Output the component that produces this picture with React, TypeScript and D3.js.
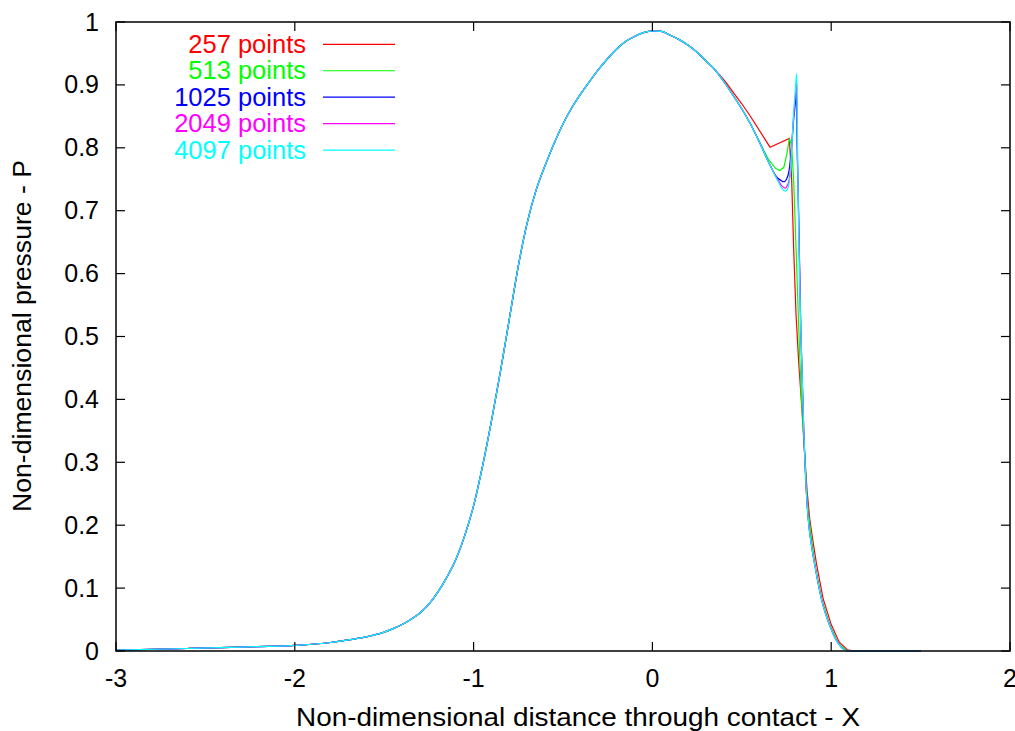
import React from "react";
import * as d3 from "d3";

// Shared part of the profile (all meshes agree here)
const commonX = [-3.0, -2.6, -2.3, -2.0, -1.8, -1.7, -1.6, -1.5, -1.45, -1.4, -1.35, -1.3, -1.25, -1.2, -1.15, -1.1, -1.05, -1.0, -0.95, -0.9, -0.85, -0.8, -0.75, -0.7, -0.65, -0.6, -0.55, -0.5, -0.45, -0.4, -0.35, -0.3, -0.25, -0.2, -0.15, -0.1, -0.05, 0.0, 0.05, 0.1, 0.15, 0.2, 0.25, 0.3, 0.35];
const commonP = [0.0015, 0.004, 0.0062, 0.009, 0.0135, 0.0178, 0.0225, 0.030, 0.0355, 0.042, 0.0505, 0.0605, 0.0745, 0.0935, 0.117, 0.145, 0.183, 0.231, 0.294, 0.366, 0.444, 0.528, 0.612, 0.681, 0.733, 0.772, 0.807, 0.838, 0.864, 0.886, 0.906, 0.925, 0.942, 0.957, 0.969, 0.977, 0.983, 0.986, 0.985, 0.979, 0.972, 0.963, 0.952, 0.938, 0.924];

// Outlet-side tails per mesh
const redX = [0.4, 0.45, 0.5, 0.546, 0.658, 0.766, 0.779, 0.79, 0.803, 0.818, 0.835, 0.85, 0.865, 0.88, 0.895, 0.918, 0.955, 1.0, 1.045, 1.09, 1.13, 1.5];
const redP = [0.908, 0.889, 0.870, 0.851, 0.801, 0.815, 0.749, 0.64, 0.537, 0.46, 0.39, 0.32, 0.255, 0.21, 0.18, 0.138, 0.083, 0.042, 0.014, 0.002, 0.0, 0.0];

const greenX = [0.4, 0.45, 0.5, 0.55, 0.6, 0.65, 0.69, 0.714, 0.735, 0.752, 0.766, 0.778, 0.79, 0.803, 0.822, 0.833, 0.848, 0.865, 0.88, 0.895, 0.91, 0.947, 0.994, 1.04, 1.087, 1.12, 1.5];
const greenP = [0.905, 0.884, 0.862, 0.837, 0.809, 0.781, 0.767, 0.764, 0.769, 0.79, 0.815, 0.805, 0.749, 0.643, 0.484, 0.404, 0.335, 0.24, 0.2, 0.168, 0.136, 0.082, 0.04, 0.012, 0.0006, 0.0, 0.0];

const blueX = [0.4, 0.45, 0.5, 0.55, 0.6, 0.65, 0.7, 0.72, 0.735, 0.75, 0.765, 0.778, 0.79, 0.8, 0.806, 0.81, 0.814, 0.83, 0.846, 0.865, 0.875, 0.89, 0.91, 0.947, 0.994, 1.04, 1.087, 1.12, 1.5];
const blueP = [0.905, 0.884, 0.862, 0.837, 0.808, 0.777, 0.752, 0.748, 0.746, 0.75, 0.765, 0.8, 0.845, 0.872, 0.888, 0.8, 0.749, 0.51, 0.355, 0.235, 0.2, 0.168, 0.134, 0.081, 0.039, 0.012, 0.0005, 0.0, 0.0];

const magentaX = [0.4, 0.45, 0.5, 0.55, 0.6, 0.65, 0.7, 0.725, 0.742, 0.758, 0.77, 0.779, 0.79, 0.799, 0.807, 0.811, 0.814, 0.83, 0.846, 0.865, 0.875, 0.89, 0.91, 0.947, 0.994, 1.04, 1.087, 1.12, 1.5];
const magentaP = [0.905, 0.884, 0.862, 0.837, 0.808, 0.777, 0.75, 0.739, 0.736, 0.742, 0.76, 0.8, 0.852, 0.88, 0.902, 0.78, 0.749, 0.51, 0.355, 0.235, 0.2, 0.168, 0.134, 0.081, 0.039, 0.012, 0.0005, 0.0, 0.0];

const cyanX = [0.4, 0.45, 0.5, 0.55, 0.6, 0.65, 0.7, 0.725, 0.745, 0.76, 0.77, 0.779, 0.79, 0.798, 0.807, 0.812, 0.814, 0.83, 0.846, 0.865, 0.875, 0.89, 0.91, 0.947, 0.994, 1.04, 1.087, 1.12, 1.5];
const cyanP = [0.905, 0.884, 0.862, 0.837, 0.808, 0.777, 0.748, 0.735, 0.731, 0.738, 0.755, 0.8, 0.855, 0.887, 0.918, 0.8, 0.749, 0.51, 0.355, 0.235, 0.2, 0.168, 0.134, 0.081, 0.039, 0.012, 0.0005, 0.0, 0.0];

const seriesNames = ["257 points", "513 points", "1025 points", "2049 points", "4097 points"];
const seriesColors = ["#ff0000", "#00ff00", "#0000ff", "#ff00ff", "#00ffff"];
const tailsX = [redX, greenX, blueX, magentaX, cyanX];
const tailsP = [redP, greenP, blueP, magentaP, cyanP];
// coarse meshes show straight segments between their nodes
const tailLinear = [true, true, false, false, false];

const xTicks = [-3, -2, -1, 0, 1, 2];
const yTicks = [0, 0.1, 0.2, 0.3, 0.4, 0.5, 0.6, 0.7, 0.8, 0.9, 1];
const xTitle = "Non-dimensional distance through contact - X";
const yTitle = "Non-dimensional pressure - P";

const W = 1015;
const H = 731;
const L = 116, R = 1010, T = 22, B = 651;
const FONT = "'Liberation Sans', Arial, Helvetica, sans-serif";

export default function App() {
  const x = d3.scaleLinear().domain([-3, 2]).range([L, R]);
  const y = d3.scaleLinear().domain([0, 1]).range([B, T]);
  const smooth = d3
    .line<[number, number]>()
    .x((d) => x(d[0]))
    .y((d) => y(d[1]))
    .curve(d3.curveMonotoneX);
  const straight = d3
    .line<[number, number]>()
    .x((d) => x(d[0]))
    .y((d) => y(d[1]))
    .curve(d3.curveLinear);

  const series = seriesNames.map((name, i) => {
    const base: [number, number][] = [];
    const firstTail = tailsX[i][0];
    commonX.forEach((cx, j) => {
      if (cx < firstTail) base.push([cx, commonP[j]]);
    });
    const tail: [number, number][] = tailsX[i].map((tx, j) => [tx, tailsP[i][j]]);
    let d: string;
    if (tailLinear[i]) {
      const baseD = smooth([...base, tail[0], tail[1]]) || "";
      const tailD = straight(tail.slice(1)) || "";
      d = baseD + " " + tailD.replace(/^M/, "L");
    } else {
      d = smooth([...base, ...tail]) || "";
    }
    return { name, color: seriesColors[i], d };
  });

  const tickLen = 9;
  const fs = 25;

  return (
    <svg
      width={W}
      height={H}
      style={{ position: "absolute", left: 0, top: 0, background: "#fff" }}
      fontFamily={FONT}
    >
      <rect x={0} y={0} width={W} height={H} fill="#fff" />
      {/* data */}
      <g>
        {series.map((s) => (
          <path key={s.name} d={s.d} fill="none" stroke={s.color} strokeWidth={1.2} strokeLinejoin="miter" />
        ))}
      </g>
      {/* frame */}
      <rect x={L} y={T} width={R - L} height={B - T} fill="none" stroke="#000" strokeWidth={1.5} />
      {/* x ticks */}
      {xTicks.map((t) => (
        <g key={"x" + t}>
          <line x1={x(t)} x2={x(t)} y1={B} y2={B - tickLen} stroke="#000" strokeWidth={1.2} />
          <line x1={x(t)} x2={x(t)} y1={T} y2={T + tickLen} stroke="#000" strokeWidth={1.2} />
          <text x={x(t)} y={687} textAnchor="middle" fontSize={fs} fill="#000">
            {String(t)}
          </text>
        </g>
      ))}
      {/* y ticks */}
      {yTicks.map((t) => (
        <g key={"y" + t}>
          <line x1={L} x2={L + tickLen} y1={y(t)} y2={y(t)} stroke="#000" strokeWidth={1.2} />
          <line x1={R} x2={R - tickLen} y1={y(t)} y2={y(t)} stroke="#000" strokeWidth={1.2} />
          <text x={99} y={y(t) + 8.5} textAnchor="end" fontSize={fs} fill="#000">
            {String(t)}
          </text>
        </g>
      ))}
      {/* axis titles */}
      <text
        x={(296 + 860) / 2}
        y={726}
        textAnchor="middle"
        fontSize={26}
        fill="#000"
        textLength={564}
        lengthAdjust="spacingAndGlyphs"
      >
        {xTitle}
      </text>
      <text
        transform={`translate(31, ${(160 + 512) / 2}) rotate(-90)`}
        textAnchor="middle"
        fontSize={26}
        fill="#000"
        textLength={352}
        lengthAdjust="spacingAndGlyphs"
      >
        {yTitle}
      </text>
      {/* legend */}
      {series.map((s, i) => {
        const ry = 44.3 + i * 26.45;
        return (
          <g key={"lg" + i}>
            <text x={306} y={ry + 8.5} textAnchor="end" fontSize={25.5} fill={s.color}>
              {s.name}
            </text>
            <line x1={323} x2={395} y1={ry} y2={ry} stroke={s.color} strokeWidth={1.2} />
          </g>
        );
      })}
    </svg>
  );
}
